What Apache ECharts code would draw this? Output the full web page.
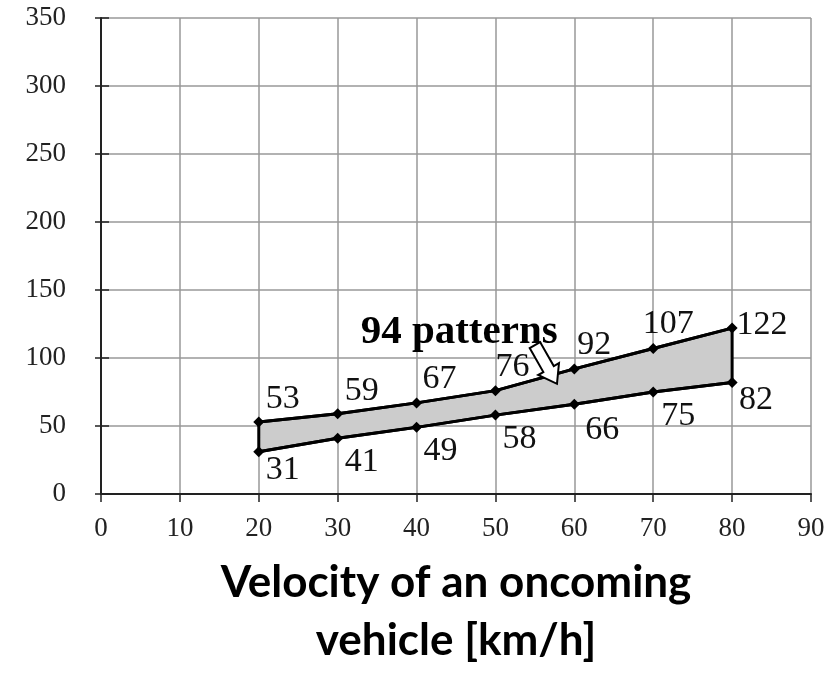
<!DOCTYPE html>
<html><head><meta charset="utf-8">
<script src="https://cdn.jsdelivr.net/npm/echarts@6/dist/echarts.min.js"></script>
<style>html,body{margin:0;padding:0;background:#fff}#c{width:830px;height:679px}</style>
</head><body><div id="c"></div>
<script>
const velocities = [20, 30, 40, 50, 60, 70, 80];
const upperValues = [53, 59, 67, 76, 92, 107, 122];
const lowerValues = [31, 41, 49, 58, 66, 75, 82];
const xTicks = [0, 10, 20, 30, 40, 50, 60, 70, 80, 90];
const yTicks = [0, 50, 100, 150, 200, 250, 300, 350];
const annotationText = '94 patterns';
const xTitle = 'Velocity of an oncoming\nvehicle [km/h]';

const upperOffsets = [[24,-23],[24,-23],[23,-24],[17,-24],[20,-24],[15,-24],[30,-3]];
const lowerOffsets = [[24,18],[24,24],[24,24],[24,24],[28,26],[25,24],[24,18]];

const serif = 'Liberation Serif';
const chart = echarts.init(document.getElementById('c'));

function pts(vals, offs) {
  return velocities.map((v, i) => ({
    value: [v, vals[i]],
    label: { offset: offs[i] }
  }));
}

const lineCommon = {
  type: 'line',
  symbol: 'diamond',
  symbolSize: 11,
  itemStyle: { color: '#000' },
  lineStyle: { color: '#000', width: 3 },
  z: 5,
  label: {
    show: true, position: 'inside', align: 'center', verticalAlign: 'middle',
    fontFamily: serif, fontSize: 34, color: '#111',
    formatter: p => p.value[1]
  },
  animation: false
};

const option = {
  animation: false,
  grid: { left: 101, right: 19, top: 18, bottom: 185 },
  xAxis: [{
    type: 'value', min: xTicks[0], max: xTicks[xTicks.length - 1], interval: 10,
    axisLine: { show: true, lineStyle: { color: '#222', width: 2 } },
    axisTick: { show: true, length: 8, lineStyle: { color: '#222', width: 1.5 } },
    axisLabel: { fontFamily: serif, fontSize: 27, color: '#222', margin: 21 },
    splitLine: { show: true, lineStyle: { color: '#999', width: 1.5 } },
    name: xTitle, nameLocation: 'middle', nameGap: 60,
    nameTextStyle: { fontFamily: 'Lato', fontWeight: 'bold', fontSize: 44, color: '#000', lineHeight: 58, align: 'center' }
  }],
  yAxis: [{
    type: 'value', min: yTicks[0], max: yTicks[yTicks.length - 1], interval: 50,
    axisLine: { show: true, lineStyle: { color: '#222', width: 2 } },
    axisTick: { show: true, length: 6, lineStyle: { color: '#222', width: 1.5 } },
    axisLabel: { fontFamily: serif, fontSize: 27, color: '#222', margin: 35 },
    splitLine: { show: true, lineStyle: { color: '#999', width: 1.5 } }
  }, {
    type: 'value', position: 'left', min: yTicks[0], max: yTicks[yTicks.length - 1], interval: 50,
    axisLine: { show: false },
    axisTick: { show: true, inside: true, length: 8, lineStyle: { color: '#222', width: 1.5 } },
    axisLabel: { show: false }, splitLine: { show: false }
  }],
  series: [
    {
      type: 'custom',
      data: [0],
      z: 3,
      renderItem: function (params, api) {
        const poly = [];
        velocities.forEach((v, i) => poly.push(api.coord([v, upperValues[i]])));
        for (let i = velocities.length - 1; i >= 0; i--) poly.push(api.coord([velocities[i], lowerValues[i]]));
        return {
          type: 'polygon',
          shape: { points: poly },
          style: { fill: '#cccccc', stroke: '#000', lineWidth: 3, lineJoin: 'miter' }
        };
      }
    },
    Object.assign({}, lineCommon, { name: 'upper', data: pts(upperValues, upperOffsets) }),
    Object.assign({}, lineCommon, { name: 'lower', data: pts(lowerValues, lowerOffsets) })
  ]
};
chart.setOption(option);

// annotation text and hollow block arrow positioned via the axes
const textPos = chart.convertToPixel({ gridIndex: 0 }, [45.4, 118.8]);
const T = chart.convertToPixel({ gridIndex: 0 }, [55.0, 109.5]);
const P = chart.convertToPixel({ gridIndex: 0 }, [57.8, 81.0]);
const dx = P[0] - T[0], dy = P[1] - T[1];
const L = Math.hypot(dx, dy);
const d = [dx / L, dy / L], n = [-d[1], d[0]];
const headLen = 17, sw = 6, hw = 12;
const H = [P[0] - d[0] * headLen, P[1] - d[1] * headLen];
const add = (a, v, k) => [a[0] + v[0] * k, a[1] + v[1] * k];
const arrowPts = [add(T, n, sw), add(H, n, sw), add(H, n, hw), P, add(H, n, -hw), add(H, n, -sw), add(T, n, -sw)];

chart.setOption({
  graphic: [
    {
      type: 'text', x: textPos[0], y: textPos[1], z: 10,
      style: { text: annotationText, fontFamily: serif, fontWeight: 'bold', fontSize: 41, fill: '#000', align: 'center', verticalAlign: 'middle' }
    },
    {
      type: 'polygon', z: 10,
      shape: { points: arrowPts },
      style: { fill: '#fff', stroke: '#000', lineWidth: 2 }
    }
  ]
});
</script></body></html>
